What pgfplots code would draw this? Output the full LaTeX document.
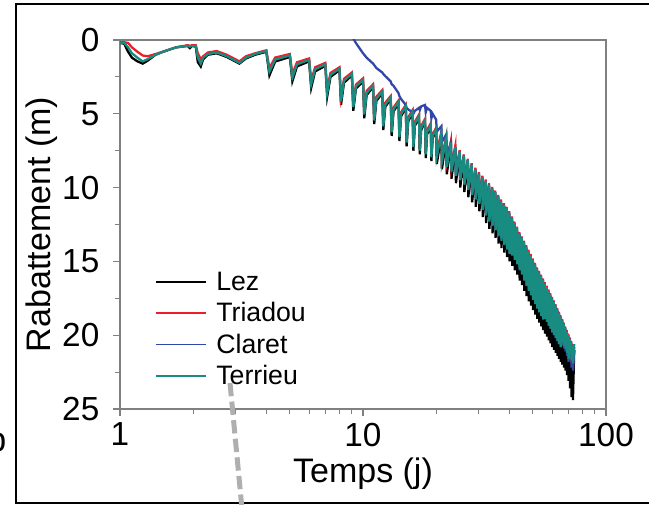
\documentclass[border=0pt]{standalone}
\usepackage{fontspec}
\setmainfont{Liberation Sans}
\usepackage{pgfplots}
\usepackage{pgfplotstable}
\pgfplotsset{compat=1.18}
\definecolor{lezblack}{RGB}{0,0,0}
\definecolor{triared}{RGB}{237,30,40}
\definecolor{claretblue}{RGB}{50,70,170}
\definecolor{terrteal}{RGB}{25,140,130}
\definecolor{axgray}{RGB}{128,128,128}
\definecolor{dashgray}{RGB}{175,175,175}

% drawdown (m) vs time (days) for the four wells
\pgfplotstableread{
t lez tri cla ter
1.00 0.20 0.15 nan 0.20
1.04 0.25 0.15 nan 0.20
1.08 0.80 0.20 nan 0.50
1.12 1.20 0.50 nan 0.90
1.18 1.45 0.80 nan 1.20
1.24 1.60 1.05 nan 1.45
1.30 1.40 1.10 nan 1.30
1.40 1.00 0.95 nan 1.00
1.50 0.80 0.80 nan 0.80
1.70 0.50 0.50 nan 0.50
1.90 0.40 0.35 nan 0.40
1.94 0.55 0.40 nan 0.45
1.98 0.40 0.35 nan 0.40
2.05 0.45 0.35 nan 0.40
2.09 1.50 0.90 nan 1.20
2.15 1.80 1.30 nan 1.60
2.20 1.30 1.10 nan 1.20
2.30 1.00 0.85 nan 0.95
2.50 0.90 0.75 nan 0.85
2.75 1.15 1.00 nan 1.10
2.90 1.35 1.20 nan 1.30
3.10 1.60 1.45 nan 1.55
3.30 1.25 1.10 nan 1.20
3.60 1.00 0.90 nan 0.95
4.00 0.80 0.70 nan 0.75
4.12 2.40 1.90 nan 2.15
4.35 1.46 1.19 nan 1.33
5.00 1.15 0.95 nan 1.05
5.12 2.80 2.30 nan 2.55
5.35 1.79 1.51 nan 1.65
6.00 1.45 1.25 nan 1.35
6.12 3.25 2.75 nan 3.00
6.35 2.13 1.85 nan 1.99
7.00 1.75 1.55 nan 1.65
7.12 3.85 3.35 nan 3.60
7.35 2.50 2.23 nan 2.36
8.00 2.05 1.85 nan 1.95
8.12 4.40 3.90 nan 4.15
8.35 2.90 2.63 nan 2.76
9.00 2.40 2.20 -0.40 2.30
9.12 4.80 4.30 -0.10 4.55
9.35 3.30 3.03 0.20 3.16
10.00 2.80 2.60 0.90 2.70
10.12 5.30 4.80 1.00 5.05
10.35 3.73 3.45 1.20 3.59
11.00 3.20 3.00 1.60 3.10
11.12 5.70 5.20 1.70 5.45
11.35 4.13 3.85 1.90 3.99
12.00 3.60 3.40 2.20 3.50
12.12 6.10 5.60 2.30 5.85
12.35 4.53 4.25 2.45 4.39
13.00 4.00 3.80 2.80 3.90
13.12 6.50 6.00 3.00 6.25
13.35 4.85 4.58 3.10 4.71
14.00 4.30 4.10 3.60 4.20
14.12 6.85 6.35 3.80 6.60
14.35 5.16 4.89 4.00 5.03
15.00 4.60 4.40 4.40 4.50
15.12 7.20 6.70 4.60 6.95
15.35 5.51 5.24 4.70 5.38
16.00 4.95 4.75 4.90 4.85
16.12 7.50 7.00 5.00 7.25
16.35 5.81 5.54 4.80 5.68
17.00 5.25 5.05 4.60 5.15
17.12 7.75 7.25 4.75 7.50
17.35 6.10 5.83 4.50 5.96
18.00 5.55 5.35 4.40 5.45
18.12 8.00 7.50 4.90 7.75
18.35 6.39 6.11 4.60 6.25
19.00 5.85 5.65 4.80 5.75
19.12 8.20 7.70 5.30 7.95
19.35 6.66 6.39 5.00 6.53
20.00 6.15 5.95 5.40 6.05
20.12 8.40 7.60 6.20 7.90
21.00 6.45 6.25 5.85 6.35
21.12 8.75 7.95 6.90 8.25
22.00 6.75 6.55 6.40 6.65
22.12 9.10 8.30 7.80 8.60
23.00 7.05 6.85 6.95 6.95
23.12 9.40 8.60 8.80 8.90
24.00 7.35 7.15 7.25 7.25
24.12 9.70 8.90 9.10 9.20
25.00 7.65 7.45 7.55 7.55
25.12 10.00 9.20 9.40 9.50
26.00 7.95 7.75 7.85 7.85
26.12 10.30 9.50 9.70 9.80
27.00 8.25 8.05 8.15 8.15
27.12 10.65 9.85 10.05 10.15
28.00 8.55 8.35 8.45 8.45
28.12 11.00 10.20 10.40 10.50
29.00 8.85 8.65 8.75 8.75
29.12 11.30 10.50 10.70 10.80
30.00 9.15 8.95 9.05 9.05
30.12 11.60 10.80 11.00 11.10
31.00 9.40 9.20 9.30 9.30
31.12 12.00 11.20 11.40 11.50
32.00 9.65 9.45 9.55 9.55
32.12 12.40 11.60 11.80 11.90
33.00 9.90 9.70 9.80 9.80
33.12 12.80 12.00 12.20 12.30
34.00 10.15 9.95 10.05 10.05
34.12 13.10 12.30 12.50 12.60
35.00 10.40 10.20 10.30 10.30
35.12 13.40 12.60 12.80 12.90
36.00 10.70 10.50 10.60 10.60
36.12 13.80 13.00 13.20 13.30
37.00 11.00 10.80 10.90 10.90
37.12 14.10 13.30 13.50 13.60
38.00 11.25 11.05 11.15 11.15
38.12 14.40 13.60 13.80 13.90
39.00 11.50 11.30 11.40 11.40
39.12 14.70 13.90 14.10 14.20
40.00 11.80 11.60 11.70 11.70
40.12 15.00 14.20 14.40 14.50
41.00 12.15 11.95 12.05 12.05
41.12 15.30 14.30 14.50 14.60
42.00 12.50 12.30 12.40 12.40
42.12 15.60 14.60 14.80 14.90
43.00 12.85 12.65 12.75 12.75
43.12 15.90 14.90 15.10 15.20
44.00 13.20 13.00 13.10 13.10
44.12 16.30 15.30 15.50 15.60
45.00 13.50 13.30 13.40 13.40
45.12 16.60 15.60 15.80 15.90
46.00 13.80 13.60 13.70 13.70
46.12 17.00 16.00 16.20 16.30
47.00 14.10 13.90 14.00 14.00
47.12 17.35 16.35 16.55 16.65
48.00 14.40 14.20 14.30 14.30
48.12 17.70 16.70 16.90 17.00
49.00 14.70 14.50 14.60 14.60
49.12 18.00 17.00 17.20 17.30
50.00 15.00 14.80 14.90 14.90
50.12 18.30 17.30 17.50 17.60
51.00 15.30 15.10 15.20 15.20
51.12 18.60 17.60 17.80 17.90
52.00 15.60 15.40 15.50 15.50
52.12 18.90 17.90 18.10 18.20
53.00 15.85 15.65 15.75 15.75
53.12 19.15 18.15 18.35 18.45
54.00 16.10 15.90 16.00 16.00
54.12 19.40 18.40 18.60 18.70
55.00 16.35 16.15 16.25 16.25
55.12 19.65 18.65 18.85 18.95
56.00 16.60 16.40 16.50 16.50
56.12 19.90 18.60 18.90 18.90
57.00 16.85 16.65 16.75 16.75
57.12 20.10 18.80 19.10 19.10
58.00 17.10 16.90 17.00 17.00
58.12 20.35 19.05 19.35 19.35
59.00 17.35 17.15 17.25 17.25
59.12 20.55 19.25 19.55 19.55
60.00 17.60 17.40 17.50 17.50
60.12 20.80 19.50 19.80 19.80
61.00 17.85 17.65 17.75 17.75
61.12 21.00 19.70 20.00 20.00
62.00 18.10 17.90 18.00 18.00
62.12 21.20 19.90 20.20 20.20
63.00 18.35 18.15 18.25 18.25
63.12 21.40 20.10 20.40 20.40
64.00 18.60 18.40 18.50 18.50
64.12 21.60 20.30 20.60 20.60
65.00 18.85 18.65 18.75 18.75
65.12 21.80 20.50 20.80 20.80
66.00 19.10 18.90 19.00 19.00
66.12 22.00 20.20 20.70 20.50
67.00 19.35 19.15 19.25 19.25
67.12 22.20 20.40 20.90 20.70
68.00 19.60 19.40 19.50 19.50
68.12 22.40 20.60 21.10 20.90
69.00 19.85 19.65 19.75 19.75
69.12 22.70 20.90 21.40 21.20
70.00 20.10 19.90 20.00 20.00
70.12 23.10 21.30 21.80 21.60
71.00 20.35 20.15 20.25 20.25
71.12 23.60 21.30 21.60 21.10
72.00 20.60 20.40 20.50 20.50
72.12 24.20 21.90 22.20 21.70
73.00 20.80 20.60 20.70 20.70
73.12 24.40 22.10 22.40 21.90
74.00 21.00 20.80 21.00 20.60
}\rabdata

\begin{document}
\begin{tikzpicture}[x=1pt,y=1pt]
\useasboundingbox (0,0) rectangle (486.75,378.75);
% outer frame of the figure panel
\draw[line width=2.2pt] (500,375.75) -- (12,375.75) -- (12,1.5) -- (500,1.5);
\begin{axis}[
  at={(90pt,72pt)}, anchor=south west,
  scale only axis, width=364.5pt, height=276.75pt,
  xmode=log, xmin=1, xmax=100,
  ymin=0, ymax=25, y dir=reverse,
  xtick={1,10,100}, xticklabels={1,10,100},
  minor xtick={2,3,4,5,6,7,8,9,20,30,40,50,60,70,80,90},
  ytick={0,5,10,15,20,25},
  minor ytick={2.5,7.5,12.5,17.5,22.5},
  tick align=outside,
  major tick length=5pt, minor tick length=4pt,
  xtick pos=bottom, ytick pos=left,
  axis line style={axgray, line width=1pt},
  every tick/.style={axgray, line width=0.8pt},
  /pgf/number format/assume math mode=true,
  tick label style={font=\fontsize{25}{25}\selectfont},
  xticklabel style={yshift=-2pt},
  yticklabel style={xshift=-7pt},
  xlabel={Temps (j)},
  xlabel style={font=\fontsize{25.5}{26}\selectfont, at={(axis description cs:0.5,-0.198)}, anchor=base},
  ylabel={Rabattement (m)},
  ylabel style={font=\fontsize{25.5}{26}\selectfont, at={(axis description cs:-0.144,0.5)}, anchor=base},
  legend style={at={(0.072,0.379)}, anchor=north west, draw=none, fill=none,
    font=\fontsize{20}{24}\selectfont, inner sep=0pt, row sep=3.5pt,
    /tikz/every odd column/.append style={column sep=5pt}},
  legend cell align=left,
  legend image code/.code={\draw[#1, line width=1.3pt] (0pt,0pt) -- (37.5pt,0pt);},
]
\addplot[lezblack, line width=1.7pt] table[x=t, y=lez] {\rabdata};
\addlegendentry{Lez}
\addplot[triared, line width=1.7pt] table[x=t, y=tri] {\rabdata};
\addlegendentry{Triadou}
\addplot[claretblue, line width=1.7pt] table[x=t, y=cla] {\rabdata};
\addlegendentry{Claret}
\addplot[terrteal, line width=1.7pt] table[x=t, y=ter] {\rabdata};
\addlegendentry{Terrieu}
\end{axis}
% dashed connector and panel letter
\draw[dashgray, line width=3.75pt, dash pattern=on 10pt off 4pt] (172.5,91.5) -- (181.5,-3);
\node[anchor=base east, font=\fontsize{25.5}{26}\selectfont, inner sep=0pt] at (5,39.75) {b};
\end{tikzpicture}
\end{document}
